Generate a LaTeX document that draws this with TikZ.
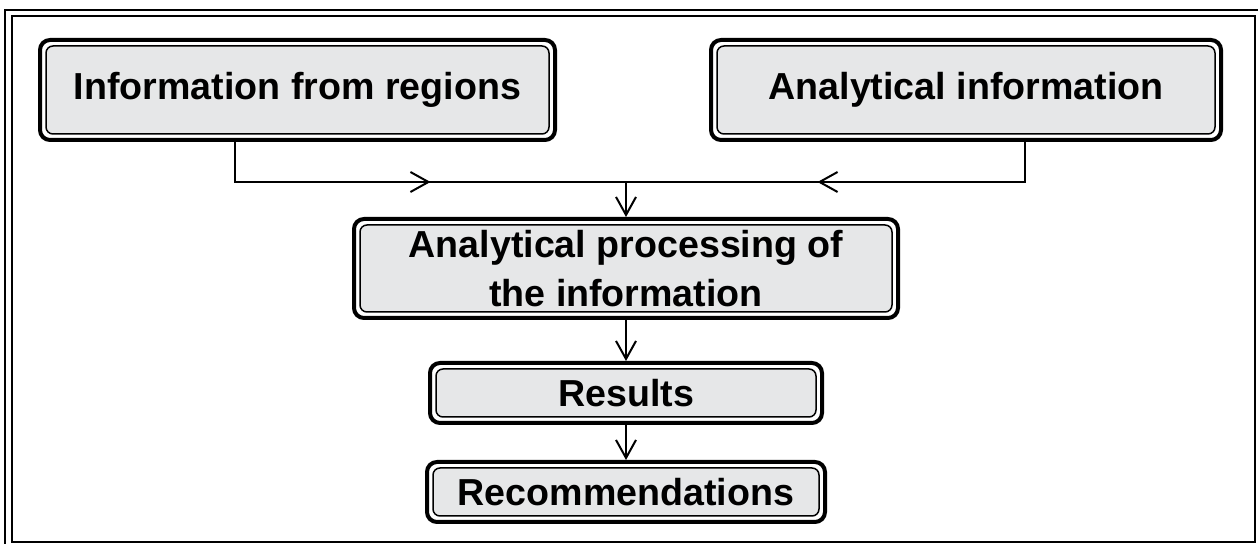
\documentclass[tikz,border=0pt]{standalone}
\usepackage{fontspec}
\setmainfont{Liberation Sans}
\usepackage{tikz}
\usetikzlibrary{calc}
\usetikzlibrary{arrows.meta}
\definecolor{boxgray}{HTML}{E6E7E8}
\tikzstyle{infobox} = [rectangle, 
rounded corners=5pt, 
align=center, 
inner sep=0pt, 
line width=2pt, 
draw=black, 
fill=white, 
font=\fontsize{18.8}{24.5}\selectfont\bfseries, 
path picture={\draw[line width=0.75pt, rounded corners=3.5pt, fill=boxgray]
  ([shift={(3pt,-3pt)}]path picture bounding box.north west) rectangle
  ([shift={(-3pt,3pt)}]path picture bounding box.south east);}]
\tikzstyle{arrow} = [line width=1pt,-{Straight Barb[length=9pt,width=10pt]}]
\tikzstyle{line} = [line width=1pt]

\begin{document}
\begin{tikzpicture}[x=0.5pt, y=-0.5pt]
    \useasboundingbox (0,0) rectangle (1258,544);
    % frame
    \draw [line width=0.6pt] (5,10) rectangle (1270,556);
    \draw [line width=0.9pt] (12,16) rectangle (1255,542);

    \node (regions) [infobox, minimum width=257.5pt, minimum height=50pt] at (297.5,90) {Information from regions};
    \node (analytic) [infobox, minimum width=255pt, minimum height=50pt] at (966,90) {Analytical information};
    \node (process) [infobox, minimum width=272pt, minimum height=49.5pt] at (626,268.5) {Analytical processing of\\the information};
    \node (results) [infobox, minimum width=196pt, minimum height=30pt] at (626,393) {Results};
    \node (recomm) [infobox, minimum width=199pt, minimum height=30pt] at (626,492) {Recommendations};

    \coordinate (c1) at (235,182);
    \coordinate (c2) at (1025,182);
    \coordinate (join) at (626,182);

    % incoming arcs
    \draw [line] (regions.south -| c1) -- (c1) -- (join) -- (join -| c2) -- (c2) -- (analytic.south -| c2);
    \draw [arrow] (c1) -- ($(c1)!0.5!(join)$);
    \draw [arrow] (c2) -- ($(c2)!0.52!(join)$);
    \draw [arrow] (join) -- (process.north);

    % chain
    \draw [arrow] (process) -- (results);
    \draw [arrow] (results) -- (recomm);
\end{tikzpicture}
\end{document}
